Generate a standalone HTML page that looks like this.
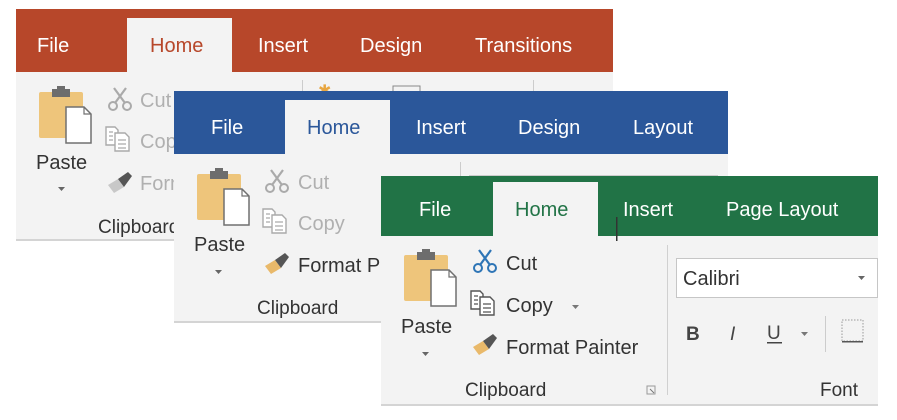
<!DOCTYPE html>
<html><head><meta charset="utf-8"><style>
html,body{margin:0;padding:0;background:#fff;width:897px;height:420px;overflow:hidden}
text{font-family:"Liberation Sans",sans-serif}
</style></head><body>
<svg width="897" height="420" viewBox="0 0 897 420" xmlns="http://www.w3.org/2000/svg">
<defs>
<g id="paste">
  <rect x="39" y="92" width="44" height="46" rx="2" fill="#eec57b"/>
  <rect x="52" y="89" width="18" height="8" fill="#6d6d6d"/>
  <rect x="57" y="86" width="8" height="5" fill="#6d6d6d"/>
  <path d="M66 107 H84 L91 114 V143 H66 Z" fill="#fff" stroke="#707070" stroke-width="1.5"/>
  <path d="M84 107 V114 H91" fill="none" stroke="#707070" stroke-width="1.2"/>
</g>
<g id="sc">
  <circle cx="5" cy="18" r="4" fill="none" stroke-width="2"/>
  <circle cx="19" cy="18" r="4" fill="none" stroke-width="2"/>
  <path d="M7 15 L18 0 M17 15 L6 0" fill="none" stroke-width="2.2"/>
</g>
<g id="cp">
  <path d="M0 0 H9 L12 3 V18 H0 Z" fill="#fff" stroke-width="1.4"/>
  <path d="M9 6 H19 L23 10 V24 H9 Z" fill="#fff" stroke-width="1.4"/>
  <path d="M3 5 H7 M3 9 H7 M3 13 H7 M12 13 H20 M12 17 H20 M12 21 H20" stroke-width="1.2"/>
</g>
<g id="br">
  <path d="M2 14 L12 8 L18 16 L8 22 Z"/>
  <path d="M12 8 L22 1 L26 5 L18 16 Z" fill="#555"/>
</g>
</defs>

<!-- PowerPoint -->
<rect x="16" y="9" width="597" height="63" fill="#b7472a"/>
<rect x="16" y="72" width="597" height="168" fill="#f3f3f3"/>
<rect x="16" y="239" width="597" height="2" fill="#d4d4d4"/>
<rect x="127" y="18" width="105" height="56" fill="#f3f3f3"/>
<g font-size="20" fill="#fff">
<text x="37" y="52">File</text>
<text x="150" y="52" fill="#b7472a">Home</text>
<text x="258" y="52">Insert</text>
<text x="360" y="52">Design</text>
<text x="475" y="52">Transitions</text>
</g>
<use href="#paste"/>
<text x="36" y="169" font-size="20" fill="#333">Paste</text>
<path d="M58 187 h7 l-3.5 4z" fill="#666"/>
<use href="#sc" x="108" y="88" stroke="#aaa"/>
<use href="#cp" x="106" y="127" stroke="#aaa"/>
<use href="#br" x="106" y="171" fill="#c8c8c8"/>
<g font-size="20" fill="#b0b0b0">
<text x="140" y="107">Cut</text><text x="140" y="148">Copy</text><text x="140" y="190">Format</text>
</g>
<text x="98" y="233" font-size="19" fill="#333">Clipboard</text>
<rect x="302" y="80" width="1" height="30" fill="#ccc"/>
<text x="318" y="96" font-size="16" fill="#e8a640">✱</text>
<rect x="393" y="86" width="27" height="10" fill="none" stroke="#888"/>
<rect x="533" y="80" width="1" height="30" fill="#ccc"/>

<!-- Word -->
<rect x="174" y="91" width="554" height="63" fill="#2b579a"/>
<rect x="174" y="154" width="554" height="168" fill="#f3f3f3"/>
<rect x="174" y="321" width="554" height="2" fill="#d4d4d4"/>
<rect x="285" y="100" width="105" height="56" fill="#f3f3f3"/>
<g font-size="20" fill="#fff">
<text x="211" y="134">File</text>
<text x="307" y="134" fill="#2b579a">Home</text>
<text x="416" y="134">Insert</text>
<text x="518" y="134">Design</text>
<text x="633" y="134">Layout</text>
</g>
<use href="#paste" x="158" y="82"/>
<text x="194" y="251" font-size="20" fill="#333">Paste</text>
<path d="M215 270 h7 l-3.5 4z" fill="#666"/>
<use href="#sc" x="265" y="170" stroke="#aaa"/>
<use href="#cp" x="263" y="209" stroke="#aaa"/>
<use href="#br" x="263" y="252" fill="#e9b96a"/>
<g font-size="20">
<text x="298" y="189" fill="#b0b0b0">Cut</text><text x="298" y="230" fill="#b0b0b0">Copy</text><text x="298" y="272" fill="#333">Format P</text>
</g>
<text x="257" y="314" font-size="19" fill="#333">Clipboard</text>
<rect x="460" y="162" width="1" height="20" fill="#ccc"/>
<rect x="469" y="175" width="249" height="2" fill="#ccc"/>

<!-- Excel -->
<rect x="381" y="176" width="497" height="60" fill="#217346"/>
<rect x="381" y="236" width="497" height="169" fill="#f3f3f3"/>
<rect x="381" y="404" width="497" height="2" fill="#d4d4d4"/>
<rect x="493" y="182" width="105" height="56" fill="#f3f3f3"/>
<g font-size="20" fill="#fff">
<text x="419" y="216">File</text>
<text x="515" y="216" fill="#217346">Home</text>
<text x="623" y="216">Insert</text>
<text x="726" y="216">Page Layout</text>
</g>
<rect x="616" y="217" width="1.5" height="24" fill="#333"/>
<use href="#paste" x="365" y="163"/>
<text x="401" y="333" font-size="20" fill="#333">Paste</text>
<path d="M422 352 h7 l-3.5 4z" fill="#666"/>
<use href="#sc" x="473" y="250" stroke="#2e75b6"/>
<use href="#cp" x="471" y="291" stroke="#555"/>
<use href="#br" x="471" y="333" fill="#e9b96a"/>
<g font-size="20" fill="#333">
<text x="506" y="270">Cut</text><text x="506" y="312">Copy</text><text x="506" y="354">Format Painter</text>
</g>
<path d="M572 305 h7 l-3.5 4z" fill="#777"/>
<text x="465" y="396" font-size="19" fill="#333">Clipboard</text>
<path d="M647 386 h8 v8 h-8 z" fill="none" stroke="#999" stroke-width="1"/>
<path d="M650 389 l4 4" stroke="#777"/>
<rect x="667" y="245" width="1" height="150" fill="#d0d0d0"/>
<rect x="676.5" y="258.5" width="201" height="39" fill="#fff" stroke="#c6c6c6"/>
<text x="683" y="285" font-size="20" fill="#333">Calibri</text>
<path d="M858 276 h7 l-3.5 4z" fill="#666"/>
<text x="686" y="340" font-size="19" font-weight="bold" fill="#444">B</text>
<text x="730" y="340" font-size="19" font-style="italic" fill="#444">I</text>
<text x="767" y="339" font-size="19" fill="#444">U</text>
<rect x="767" y="342" width="15" height="1.5" fill="#444"/>
<path d="M801 332 h7 l-3.5 4z" fill="#777"/>
<rect x="825" y="316" width="1" height="36" fill="#ccc"/>
<rect x="842" y="320" width="21" height="21" fill="none" stroke="#999" stroke-dasharray="1.5 1.5"/>
<rect x="842" y="341" width="21" height="1.5" fill="#555"/>
<text x="820" y="396" font-size="19" fill="#333">Font</text>
</svg>
</body></html>
